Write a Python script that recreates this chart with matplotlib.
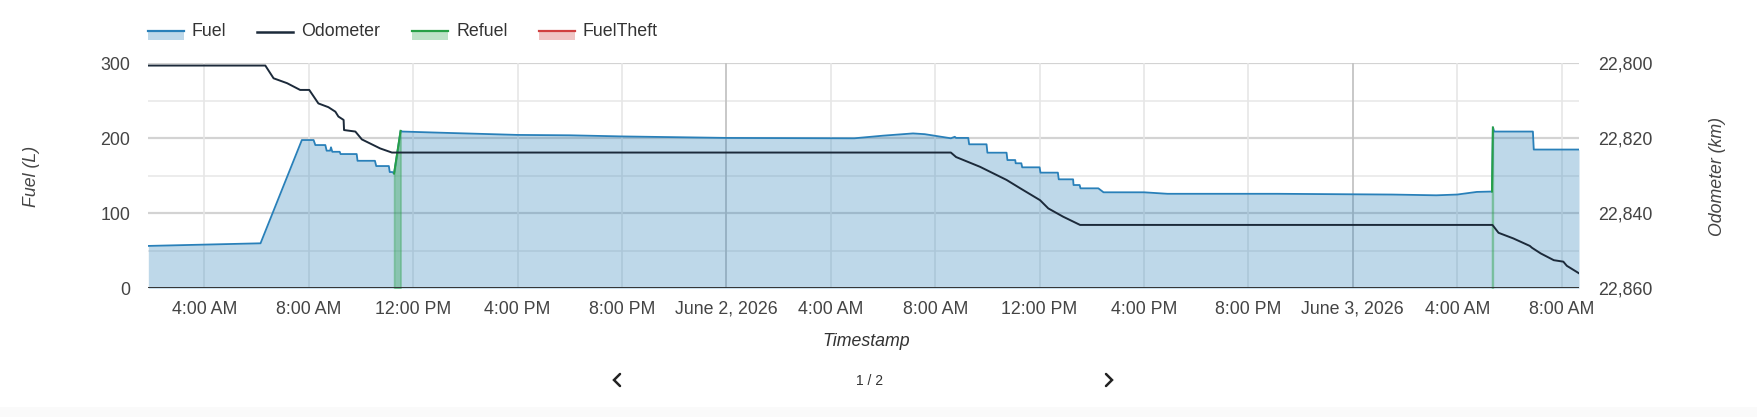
import pandas as pd
import numpy as np
import matplotlib
matplotlib.use("Agg")
import matplotlib.pyplot as plt
import matplotlib.dates as mdates
from matplotlib.patches import Rectangle
from matplotlib.lines import Line2D

plt.rcParams['font.family'] = ['Liberation Sans', 'DejaVu Sans']

# --- data ---
fuel_time = [
    "2026-06-01 01:51", "2026-06-01 06:09", "2026-06-01 07:44", "2026-06-01 08:11",
    "2026-06-01 08:15", "2026-06-01 08:38", "2026-06-01 08:41", "2026-06-01 08:49",
    "2026-06-01 08:51", "2026-06-01 08:54", "2026-06-01 09:11", "2026-06-01 09:13",
    "2026-06-01 09:50", "2026-06-01 09:52", "2026-06-01 10:32", "2026-06-01 10:35",
    "2026-06-01 11:04", "2026-06-01 11:06", "2026-06-01 11:12", "2026-06-01 11:16",
    "2026-06-01 11:31", "2026-06-01 11:35", "2026-06-01 13:00", "2026-06-01 16:00",
    "2026-06-01 18:00", "2026-06-01 20:00", "2026-06-02 00:00", "2026-06-02 04:54",
    "2026-06-02 06:00", "2026-06-02 07:09", "2026-06-02 07:36", "2026-06-02 08:36",
    "2026-06-02 08:45", "2026-06-02 08:48", "2026-06-02 09:16", "2026-06-02 09:18",
    "2026-06-02 09:58", "2026-06-02 10:00", "2026-06-02 10:44", "2026-06-02 10:46",
    "2026-06-02 11:04", "2026-06-02 11:05", "2026-06-02 11:18", "2026-06-02 11:20",
    "2026-06-02 12:00", "2026-06-02 12:02", "2026-06-02 12:42", "2026-06-02 12:44",
    "2026-06-02 13:17", "2026-06-02 13:18", "2026-06-02 13:32", "2026-06-02 13:34",
    "2026-06-02 14:15", "2026-06-02 14:27", "2026-06-02 16:00", "2026-06-02 16:54",
    "2026-06-02 21:06", "2026-06-03 01:30", "2026-06-03 03:12", "2026-06-03 04:00",
    "2026-06-03 04:45", "2026-06-03 05:20", "2026-06-03 05:22", "2026-06-03 05:25",
    "2026-06-03 06:54", "2026-06-03 06:56", "2026-06-03 08:40",
]
fuel_litres = [
    56.5, 60, 197.7, 197.7,
    191, 191, 183.5, 183.5,
    188, 182, 182, 179,
    179, 170, 170, 163,
    163, 155, 155, 153,
    210, 209, 207.5, 204.5,
    204, 202.5, 200.5, 200,
    203.5, 206.5, 205.5, 200,
    202, 200.5, 200.5, 192,
    192, 180.8, 180.8, 171,
    171, 166.7, 166.7, 161.3,
    161.3, 154.2, 154.2, 145.3,
    145.3, 137.7, 137.7, 133.3,
    133.3, 128, 128, 126,
    126, 125, 124, 125,
    128.5, 129, 214.5, 209,
    209, 185, 185,
]

odo_time = [
    "2026-06-01 01:51", "2026-06-01 06:20", "2026-06-01 06:39", "2026-06-01 07:10",
    "2026-06-01 07:40", "2026-06-01 08:01", "2026-06-01 08:22", "2026-06-01 08:45",
    "2026-06-01 09:01", "2026-06-01 09:08", "2026-06-01 09:20", "2026-06-01 09:21",
    "2026-06-01 09:47", "2026-06-01 10:02", "2026-06-01 10:44", "2026-06-01 11:11",
    "2026-06-02 08:36", "2026-06-02 08:48", "2026-06-02 09:43", "2026-06-02 10:44",
    "2026-06-02 11:15", "2026-06-02 12:01", "2026-06-02 12:20", "2026-06-02 12:54",
    "2026-06-02 13:33", "2026-06-03 05:21", "2026-06-03 05:35", "2026-06-03 06:09",
    "2026-06-03 06:47", "2026-06-03 06:52", "2026-06-03 07:12", "2026-06-03 07:42",
    "2026-06-03 08:04", "2026-06-03 08:12", "2026-06-03 08:40",
]
odo_km = [
    22800.6, 22800.6, 22804.0, 22805.3,
    22807.1, 22807.1, 22810.7, 22811.7,
    22812.9, 22814.2, 22815.1, 22817.8,
    22818.2, 22820.3, 22822.7, 22823.8,
    22823.8, 22825.0, 22827.6, 22831.1,
    22833.3, 22836.5, 22838.7, 22840.9,
    22843.1, 22843.1, 22845.2, 22846.7,
    22848.7, 22849.2, 22850.7, 22852.5,
    22852.9, 22854.0, 22856.0,
]

refuel_events = [
    (["2026-06-01 11:16", "2026-06-01 11:31"], [153, 210]),
    (["2026-06-03 05:20", "2026-06-03 05:22"], [129, 214.5]),
]

x_ticks = ["2026-06-01 04:00", "2026-06-01 08:00", "2026-06-01 12:00", "2026-06-01 16:00",
           "2026-06-01 20:00", "2026-06-02 00:00", "2026-06-02 04:00", "2026-06-02 08:00",
           "2026-06-02 12:00", "2026-06-02 16:00", "2026-06-02 20:00", "2026-06-03 00:00",
           "2026-06-03 04:00", "2026-06-03 08:00"]
x_labels = ["4:00 AM", "8:00 AM", "12:00 PM", "4:00 PM", "8:00 PM", "June 2, 2026",
            "4:00 AM", "8:00 AM", "12:00 PM", "4:00 PM", "8:00 PM", "June 3, 2026",
            "4:00 AM", "8:00 AM"]
fuel_ticks = [0, 100, 200, 300]
odo_ticks = [22800, 22820, 22840, 22860]
odo_labels = ["22,800", "22,820", "22,840", "22,860"]
legend_names = ["Fuel", "Odometer", "Refuel", "FuelTheft"]

# --- colours ---
C_FUEL = '#2980b9'
C_ODO = '#1c2a3a'
C_REFUEL = '#27a046'
C_THEFT = '#d04040'
C_TXT = '#444444'
FS = 12.8

W, H = 1758, 417
fig = plt.figure(figsize=(W / 100, H / 100), dpi=100)
fig.patch.set_facecolor('white')

def fx(px): return px / W
def fy(py): return 1 - py / H

ax_l, ax_r, ax_t, ax_b = 148.3, 1579, 63.3, 288.3
ax = fig.add_axes([fx(ax_l), fy(ax_b), fx(ax_r - ax_l), (ax_b - ax_t) / H])
ax2 = ax.twinx()

ft = pd.to_datetime(fuel_time)
ot = pd.to_datetime(odo_time)
xt = pd.to_datetime(x_ticks)

# gridlines
for v in [50, 150, 250]:
    ax.axhline(v, color='#ebebeb', lw=1.3, zorder=0)
for v in [100, 200, 300]:
    ax.axhline(v, color='#d3d3d3', lw=1.6, zorder=0)
for t, lab in zip(xt, x_labels):
    if lab.startswith("June"):
        ax.axvline(t, color='#c4c4c4', lw=1.3, zorder=0)
    else:
        ax.axvline(t, color='#e6e6e6', lw=1.2, zorder=0)

# fuel area
ax.fill_between(ft, 0, fuel_litres, color=C_FUEL, alpha=0.3, lw=0, zorder=1)
ax.plot(ft, fuel_litres, color=C_FUEL, lw=1.3, zorder=3)

# refuel events
for times, vals in refuel_events:
    rt = pd.to_datetime(times)
    ax.fill_between(rt, 0, vals, color=C_REFUEL, alpha=0.35, lw=1.2,
                    edgecolor=(0.15, 0.63, 0.27, 0.25), zorder=2)
    ax.plot(rt, vals, color=C_REFUEL, lw=1.4, zorder=4)

ax.axhline(0, color='#333333', lw=1.4, zorder=5)

# odometer
ax2.plot(ot, odo_km, color=C_ODO, lw=1.4, zorder=6)
ax2.set_ylim(22860, 22800)
ax2.set_yticks(odo_ticks)
ax2.set_yticklabels(odo_labels)

ax.set_xlim(ft[0], ft[-1])
ax.set_ylim(0, 300)
ax.set_yticks(fuel_ticks)
ax.set_xticks(xt)
ax.set_xticklabels(x_labels)

for a in (ax, ax2):
    for s in a.spines.values():
        s.set_visible(False)
ax.tick_params(axis='y', length=0, pad=13, labelsize=FS, labelcolor=C_TXT)
ax.tick_params(axis='x', length=0, pad=9, labelsize=FS, labelcolor=C_TXT)
ax2.tick_params(axis='y', length=0, pad=14, labelsize=FS, labelcolor=C_TXT)
ax2.set_zorder(ax.get_zorder() + 1)
ax2.patch.set_visible(False)

# axis titles
fig.text(fx(32), fy(176), "Fuel (L)", rotation=90, style='italic', fontsize=FS,
         color=C_TXT, ha='center', va='center')
fig.text(fx(1718), fy(176), "Odometer (km)", rotation=90, style='italic', fontsize=FS,
         color=C_TXT, ha='center', va='center')
fig.text(fx(866), fy(341), "Timestamp", style='italic', fontsize=FS,
         color='#333333', ha='center', va='center')

# legend
leg_x = [148, 257, 412, 539]
leg_txt_x = [192, 301, 457, 583]
leg_cols = [C_FUEL, C_ODO, C_REFUEL, C_THEFT]
for name, lx, tx, col in zip(legend_names, leg_x, leg_txt_x, leg_cols):
    if name == "Odometer":
        fig.add_artist(Line2D([fx(lx), fx(lx + 36)], [fy(31.7), fy(31.7)], color=col, lw=1.8))
    else:
        fig.add_artist(Rectangle((fx(lx), fy(40)), fx(36), 10 / H, facecolor=col, alpha=0.3,
                                 edgecolor='none', transform=fig.transFigure))
        fig.add_artist(Line2D([fx(lx), fx(lx + 36)], [fy(31), fy(31)], color=col, lw=1.6))
    fig.text(fx(tx), fy(32), name, fontsize=FS, color='#333333', ha='left', va='center')

# pager
fig.add_artist(Line2D([fx(620), fx(614), fx(620)], [fy(374), fy(380), fy(386)],
                      color='#222222', lw=1.8, solid_capstyle='round', solid_joinstyle='miter'))
fig.add_artist(Line2D([fx(1106), fx(1112), fx(1106)], [fy(374), fy(380), fy(386)],
                      color='#222222', lw=1.8, solid_capstyle='round', solid_joinstyle='miter'))
fig.text(fx(870), fy(381), "1 / 2", fontsize=10, color='#333333', ha='center', va='center')

fig.add_artist(Rectangle((0, 0), 1, 10 / H, facecolor='#fafafa', edgecolor='none',
                         transform=fig.transFigure, zorder=-1))

fig.savefig("out.png", dpi=100)
